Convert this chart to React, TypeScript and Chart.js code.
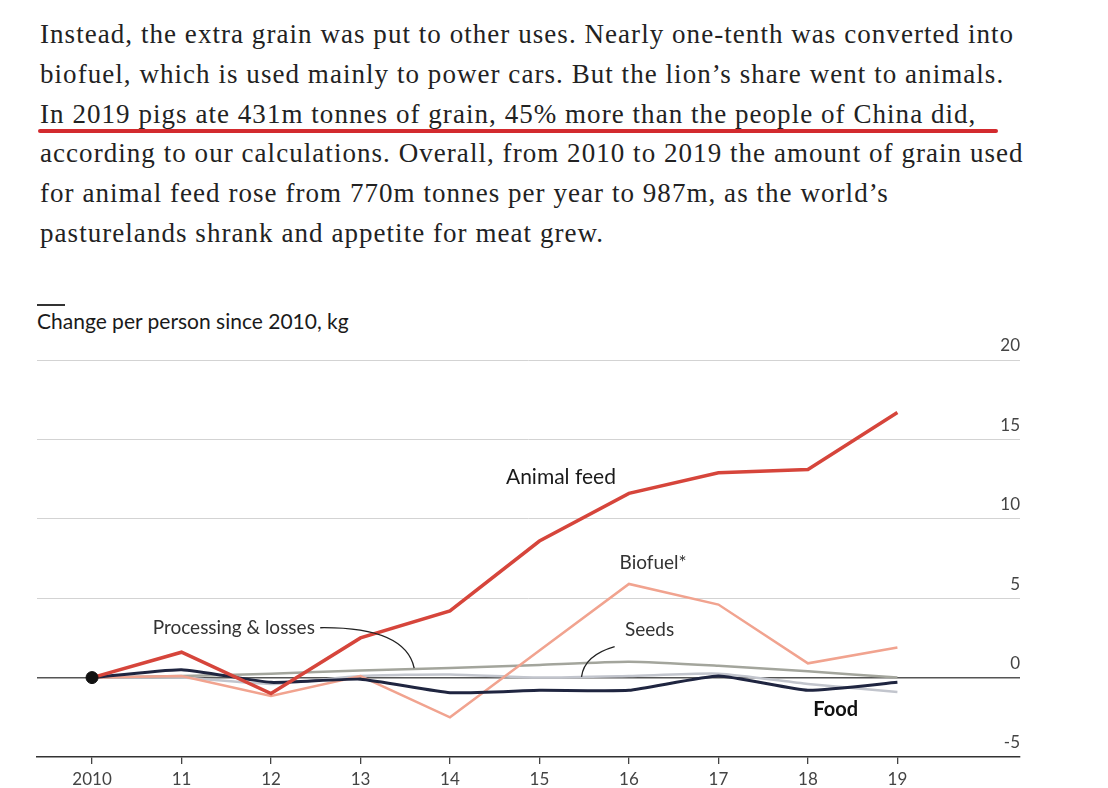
import React, { useEffect, useRef } from 'react';
import { Chart, registerables } from 'chart.js';

Chart.register(...registerables);

// ---- data ----
const years = [2010, 2011, 2012, 2013, 2014, 2015, 2016, 2017, 2018, 2019];
const xTickLabels = ['2010', '11', '12', '13', '14', '15', '16', '17', '18', '19'];
const yTickValues = [-5, 0, 5, 10, 15, 20];
const yTickLabels = ['-5', '0', '5', '10', '15', '20'];

const animalFeed = [0, 1.6, -1.0, 2.5, 4.2, 8.6, 11.6, 12.9, 13.1, 16.7];
const biofuel = [0, 0.1, -1.15, 0.1, -2.5, 1.7, 5.9, 4.6, 0.9, 1.9];
const processingLosses = [0, 0.1, 0.25, 0.45, 0.6, 0.8, 1.0, 0.75, 0.4, 0.0];
const seeds = [0, 0.0, -0.4, 0.1, 0.2, 0.0, 0.1, 0.25, -0.4, -0.9];
const food = [0, 0.5, -0.3, -0.1, -0.95, -0.8, -0.8, 0.1, -0.8, -0.3];

const paragraphLines = [
  'Instead, the extra grain was put to other uses. Nearly one-tenth was converted into',
  'biofuel, which is used mainly to power cars. But the lion\u2019s share went to animals.',
  'In 2019 pigs ate 431m tonnes of grain, 45% more than the people of China did,',
  'according to our calculations. Overall, from 2010 to 2019 the amount of grain used',
  'for animal feed rose from 770m tonnes per year to 987m, as the world\u2019s',
  'pasturelands shrank and appetite for meat grew.',
];

const chartTitle = 'Change per person since 2010, kg';

const pts = (vals: number[]) => vals.map((v, i) => ({ x: years[i], y: v }));

const SANS = 'Lato, "Open Sans", sans-serif';

const overlayPlugin = {
  id: 'overlay',
  afterDatasetsDraw(chart: any) {
    const { ctx, chartArea, scales } = chart;
    const xs = scales.x;
    const ys = scales.y;
    const px = (v: number) => xs.getPixelForValue(v);
    const py = (v: number) => ys.getPixelForValue(v);
    ctx.save();
    // y tick labels, sitting above each gridline at the right
    ctx.font = `17px ${SANS}`;
    ctx.fillStyle = '#444';
    ctx.textAlign = 'right';
    ctx.textBaseline = 'middle';
    yTickValues.forEach((v, i) => {
      ctx.fillText(yTickLabels[i], chartArea.right, py(v) - 14);
    });

    // leader lines
    ctx.strokeStyle = '#222';
    ctx.lineWidth = 1.3;
    ctx.beginPath();
    ctx.moveTo(px(2012.55), py(3.14));
    ctx.quadraticCurveTo(px(2013.5), py(3.2), px(2013.6), py(0.6));
    ctx.stroke();
    ctx.beginPath();
    ctx.moveTo(px(2015.84), py(1.95));
    ctx.quadraticCurveTo(px(2015.5), py(1.4), px(2015.47), py(0.05));
    ctx.stroke();

    // series labels
    ctx.textBaseline = 'middle';
    ctx.fillStyle = '#1a1a1a';
    ctx.font = `21px ${SANS}`;
    ctx.textAlign = 'center';
    ctx.fillText('Animal feed', px(2015.24), py(12.64));

    ctx.fillStyle = '#333';
    ctx.font = `19px ${SANS}`;
    ctx.fillText('Biofuel*', px(2016.27), py(7.23));
    ctx.fillText('Seeds', px(2016.23), py(3.0));

    ctx.textAlign = 'right';
    ctx.font = `19px ${SANS}`;
    ctx.fillText('Processing & losses', px(2012.49), py(3.14));

    ctx.textAlign = 'center';
    ctx.fillStyle = '#111';
    ctx.font = `bold 20px ${SANS}`;
    ctx.fillText('Food', px(2018.31), py(-2.0));
    ctx.restore();
  },
};

export default function App() {
  const canvasRef = useRef<HTMLCanvasElement | null>(null);

  useEffect(() => {
    if (!canvasRef.current) return;
    const chart = new Chart(canvasRef.current, {
      type: 'line',
      data: {
        datasets: [
          {
            type: 'scatter',
            label: 'start',
            data: [{ x: years[0], y: 0 }],
            pointRadius: 6,
            pointBackgroundColor: '#111',
            pointBorderColor: '#111',
          } as any,
          {
            label: 'Animal feed',
            data: pts(animalFeed),
            borderColor: '#d6453b',
            borderWidth: 3.5,
            pointRadius: 0,
            tension: 0,
          },
          {
            label: 'Food',
            data: pts(food),
            borderColor: '#1f2540',
            borderWidth: 3,
            pointRadius: 0,
            tension: 0.15,
          },
          {
            label: 'Biofuel*',
            data: pts(biofuel),
            borderColor: '#f1a38f',
            borderWidth: 2.5,
            pointRadius: 0,
            tension: 0,
          },
          {
            label: 'Processing & losses',
            data: pts(processingLosses),
            borderColor: '#a3a59c',
            borderWidth: 2.5,
            pointRadius: 0,
            tension: 0.2,
          },
          {
            label: 'Seeds',
            data: pts(seeds),
            borderColor: '#c2c5cd',
            borderWidth: 2.5,
            pointRadius: 0,
            tension: 0.2,
          },
        ],
      },
      options: {
        animation: false,
        responsive: true,
        maintainAspectRatio: false,
        layout: { padding: { left: 37, right: 88, top: 70, bottom: 0 } },
        plugins: {
          legend: { display: false },
          tooltip: { enabled: false },
          title: { display: false },
        },
        scales: {
          x: {
            type: 'linear',
            min: 2009.385,
            max: 2020.37,
            afterBuildTicks: (scale: any) => {
              scale.ticks = years.map((v) => ({ value: v }));
            },
            afterFit: (scale: any) => {
              scale.height = 31;
            },
            ticks: {
              autoSkip: false,
              maxRotation: 0,
              padding: 5,
              color: '#444',
              font: { family: SANS, size: 17 },
              callback: (v: any) => {
                const i = years.indexOf(Number(v));
                return i >= 0 ? xTickLabels[i] : '';
              },
            },
            grid: {
              drawOnChartArea: false,
              drawTicks: true,
              tickLength: 7,
              color: '#444',
              lineWidth: 1.3,
            },
            border: { display: true, color: '#333', width: 1.5 },
          },
          y: {
            type: 'linear',
            position: 'right',
            min: -5,
            max: 20,
            afterBuildTicks: (scale: any) => {
              scale.ticks = yTickValues.map((v) => ({ value: v }));
            },
            afterFit: (scale: any) => {
              scale.width = 0;
            },
            ticks: { display: false },
            grid: {
              drawTicks: false,
              color: (c: any) =>
                c.tick && c.tick.value === 0
                  ? '#555'
                  : c.tick && c.tick.value === -5
                  ? 'rgba(0,0,0,0)'
                  : '#d3d3d3',
              lineWidth: (c: any) => (c.tick && c.tick.value === 0 ? 1.5 : 1),
            },
            border: { display: false },
          },
        },
      },
      plugins: [overlayPlugin],
    });
    return () => chart.destroy();
  }, []);

  return (
    <div
      style={{
        position: 'absolute',
        left: 0,
        top: 0,
        width: 1108,
        height: 788,
        background: '#ffffff',
        overflow: 'hidden',
      }}
    >
      <div style={{ position: 'absolute', left: 40, top: 15 }}>
        {paragraphLines.map((line, i) => (
          <div
            key={i}
            style={{
              fontFamily: '"Liberation Serif", serif',
              fontSize: 27,
              letterSpacing: '1.05px',
              lineHeight: '39.8px',
              color: '#222',
              whiteSpace: 'nowrap',
            }}
          >
            {line}
          </div>
        ))}
      </div>
      <div
        style={{
          position: 'absolute',
          left: 38,
          top: 129,
          width: 960,
          height: 4,
          background: '#d32a2e',
          borderRadius: 2,
        }}
      />
      <div
        style={{
          position: 'absolute',
          left: 37,
          top: 304,
          width: 28,
          height: 1.5,
          background: '#333',
        }}
      />
      <div
        style={{
          position: 'absolute',
          left: 37,
          top: 308,
          fontFamily: SANS,
          fontSize: 21,
          lineHeight: '25px',
          color: '#1a1a1a',
          whiteSpace: 'nowrap',
        }}
      >
        {chartTitle}
      </div>
      <div
        style={{
          position: 'absolute',
          left: 0,
          top: 290,
          width: 1108,
          height: 498,
        }}
      >
        <canvas ref={canvasRef} />
      </div>
    </div>
  );
}
